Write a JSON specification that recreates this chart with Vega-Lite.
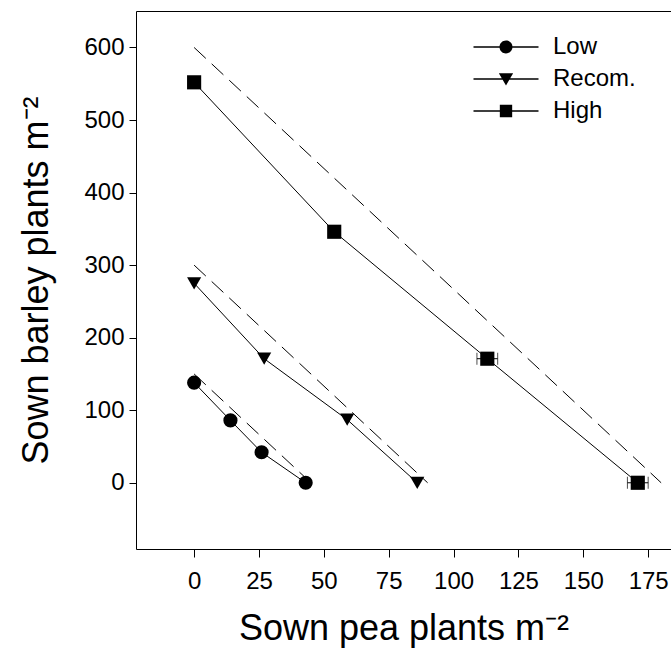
{
  "$schema": "https://vega.github.io/schema/vega-lite/v6.json",
  "width": 535,
  "height": 538,
  "autosize": "none",
  "padding": {"left": 136, "top": 11, "right": 0, "bottom": 116},
  "background": "white",
  "config": {
    "view": {"stroke": null},
    "font": "Liberation Sans",
    "axis": {
      "domainColor": "black", "tickColor": "black", "labelColor": "black", "titleColor": "black",
      "labelFont": "Liberation Sans", "titleFont": "Liberation Sans",
      "labelFontSize": 24, "titleFontSize": 36, "titleFontWeight": "normal",
      "grid": false, "tickSize": 8, "domainWidth": 1, "tickWidth": 1
    }
  },
  "datasets": {
    "pts": [
      {"group": "Low", "idx": 1, "pea": 0, "barley": 138},
      {"group": "Low", "idx": 2, "pea": 14, "barley": 86},
      {"group": "Low", "idx": 3, "pea": 26, "barley": 42},
      {"group": "Low", "idx": 4, "pea": 43, "barley": 0},
      {"group": "Recom.", "idx": 1, "pea": 0, "barley": 275},
      {"group": "Recom.", "idx": 2, "pea": 27, "barley": 171},
      {"group": "Recom.", "idx": 3, "pea": 59, "barley": 87},
      {"group": "Recom.", "idx": 4, "pea": 86, "barley": 0},
      {"group": "High", "idx": 1, "pea": 0, "barley": 552},
      {"group": "High", "idx": 2, "pea": 54, "barley": 346},
      {"group": "High", "idx": 3, "pea": 113, "barley": 171},
      {"group": "High", "idx": 4, "pea": 171, "barley": 0}
    ],
    "dash": [
      {"group": "Low", "pea": 0, "barley": 150},
      {"group": "Low", "pea": 45, "barley": 0},
      {"group": "Recom.", "pea": 0, "barley": 300},
      {"group": "Recom.", "pea": 90, "barley": 0},
      {"group": "High", "pea": 0, "barley": 600},
      {"group": "High", "pea": 180, "barley": 0}
    ],
    "err": [
      {"group": "High", "lo": 109, "hi": 117, "barley": 171},
      {"group": "High", "lo": 167, "hi": 175, "barley": 0}
    ]
  },
  "layer": [
    {
      "data": {"name": "dash"},
      "mark": {"type": "line", "color": "black", "strokeWidth": 1, "strokeDash": [16, 8]},
      "encoding": {
        "x": {"field": "pea", "type": "quantitative", "scale": {"domain": [-22.4, 183.8], "nice": false, "zero": false},
              "axis": {"orient": "top", "labels": false, "ticks": false, "title": null, "domain": true}},
        "y": {"field": "barley", "type": "quantitative", "scale": {"domain": [-91.3, 650.3], "nice": false, "zero": false},
              "axis": {"values": [0, 100, 200, 300, 400, 500, 600], "tickSize": 7, "labelPadding": 5, "titlePadding": 28,
                       "title": "Sown barley plants m⁻²"}},
        "detail": {"field": "group"}
      }
    },
    {
      "data": {"name": "pts"},
      "mark": {"type": "line", "color": "black", "strokeWidth": 1},
      "encoding": {
        "x": {"field": "pea", "type": "quantitative",
              "axis": {"values": [0, 25, 50, 75, 100, 125, 150, 175], "labelPadding": 12, "titlePadding": 18,
                       "title": "Sown pea plants m⁻²"}},
        "y": {"field": "barley", "type": "quantitative"},
        "detail": {"field": "group"},
        "order": {"field": "idx"}
      }
    },
    {
      "data": {"name": "err"},
      "mark": {"type": "errorbar", "color": "black", "ticks": {"size": 12, "color": "black"}, "rule": {"strokeWidth": 1}},
      "encoding": {
        "x": {"field": "lo", "type": "quantitative", "axis": null},
        "x2": {"field": "hi"},
        "y": {"field": "barley", "type": "quantitative"}
      }
    },
    {
      "data": {"name": "pts"},
      "mark": {"type": "point", "filled": true, "color": "black", "opacity": 1, "size": 200},
      "encoding": {
        "x": {"field": "pea", "type": "quantitative", "axis": null},
        "y": {"field": "barley", "type": "quantitative"},
        "shape": {"field": "group", "type": "nominal",
                  "scale": {"domain": ["Low", "Recom.", "High"], "range": ["circle", "triangle-down", "square"]},
                  "legend": null}
      }
    },
    {
      "data": {"name": "pts"},
      "mark": {"type": "point", "filled": true, "color": "black", "opacity": 0, "size": 169},
      "encoding": {
        "x": {"field": "pea", "type": "quantitative", "axis": null},
        "y": {"field": "barley", "type": "quantitative"},
        "shape": {"field": "group", "type": "nominal",
                  "scale": {"domain": ["Low", "Recom.", "High"],
                            "range": ["M-5,-0.1H5V0.1H-5ZM1,0A1,1,0,1,1,-1,0A1,1,0,1,1,1,0Z",
                                      "M-5,-0.1H5V0.1H-5ZM-1.1,-0.9L1.1,-0.9L0,1Z",
                                      "M-5,-0.1H5V0.1H-5ZM-0.95,-0.95H0.95V0.95H-0.95Z"]},
                  "legend": {"orient": "none", "legendX": 358, "legendY": 24, "title": null,
                             "symbolSize": 169, "symbolFillColor": "black", "symbolStrokeColor": "black",
                             "symbolStrokeWidth": 0, "symbolOpacity": 1,
                             "labelFont": "Liberation Sans", "labelFontSize": 24, "labelColor": "black",
                             "labelOffset": 35, "rowPadding": 8, "padding": 0,
                             "encode": {"symbols": {"update": {
                               "fill": {"value": "black"},
                               "opacity": {"value": 1}}}}}}
      }
    }
  ],
  "resolve": {"scale": {"shape": "independent"}, "axis": {"x": "independent"}}
}
